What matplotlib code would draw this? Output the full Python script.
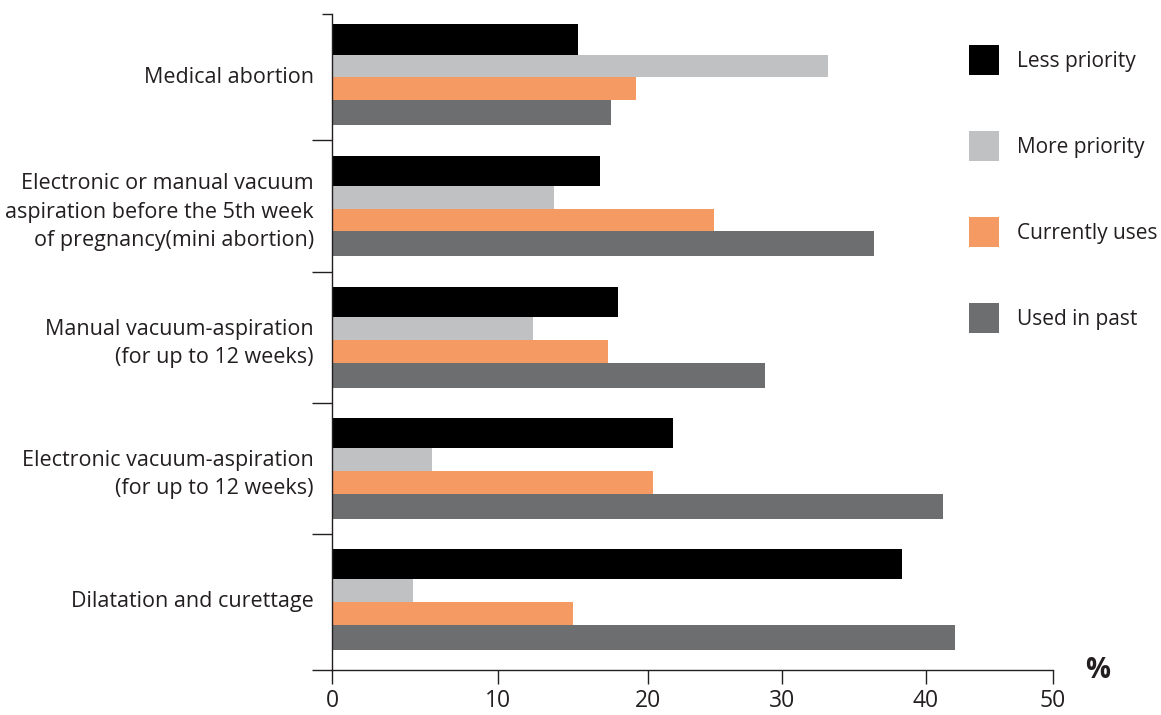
import numpy as np
import matplotlib
matplotlib.use("Agg")
import matplotlib.pyplot as plt
from matplotlib.patches import Patch

# ---- data -------------------------------------------------------------
categories = [
    "Medical abortion",
    "Electronic or manual vacuum\naspiration before the 5th week\nof pregnancy(mini abortion)",
    "Manual vacuum-aspiration\n(for up to 12 weeks)",
    "Electronic vacuum-aspiration\n(for up to 12 weeks)",
    "Dilatation and curettage",
]
series_names = ["Less priority", "More priority", "Currently uses", "Used in past"]
less_priority = [15.3, 16.8, 18.0, 21.9, 38.3]
more_priority = [33.2, 13.7, 12.3, 6.0, 4.9]
currently_uses = [19.2, 24.9, 17.3, 20.4, 15.0]
used_in_past = [17.5, 36.4, 28.7, 41.3, 42.3]
x_ticks = [0, 10, 20, 30, 40, 50]

# ---- style ------------------------------------------------------------
colors = ["#000000", "#C0C1C3", "#F59A63", "#6D6E70"]
bar_heights = [0.229, 0.175, 0.175, 0.191]
group_start = -0.385
ink = "#231F20"
font = ["Open Sans", "DejaVu Sans"]
plt.rcParams["font.family"] = font
plt.rcParams["text.color"] = ink

# The value axis uses unevenly spaced gridline ticks; a piecewise-linear
# scale keeps bar lengths consistent with those tick marks.
tick_spacing = [0, 166, 316, 450, 594, 721]


def fwd(v):
    return np.interp(v, x_ticks, tick_spacing)


def inv(p):
    return np.interp(p, tick_spacing, x_ticks)


W, H = 1161, 715
fig = plt.figure(figsize=(W / 100, H / 100), dpi=100)
ax = fig.add_axes([332 / W, 1 - 670 / H, (1053 - 332) / W, (670 - 14) / H])
ax.set_xscale("function", functions=(fwd, inv))

pos = np.arange(len(categories))
series = [less_priority, more_priority, currently_uses, used_in_past]
offset = group_start
for vals, c, h in zip(series, colors, bar_heights):
    ax.barh(pos + offset, vals, height=h, align="edge", color=c, linewidth=0)
    offset += h

y_top, y_bottom = -0.465, len(categories) - 0.46
ax.set_ylim(y_bottom, y_top)
ax.set_xlim(0, 50)

# spines
for s in ("top", "right"):
    ax.spines[s].set_visible(False)
for s in ("left", "bottom"):
    ax.spines[s].set_linewidth(1.0)
    ax.spines[s].set_color(ink)

# x ticks
ax.set_xticks(x_ticks)
ax.set_xticklabels([str(t) for t in x_ticks])
ax.tick_params(axis="x", direction="out", length=10, width=1.0, color=ink,
               labelsize=16.5, pad=4, labelcolor=ink)

# y: category labels without tick marks, separators as minor ticks
ax.set_yticks(pos)
ax.set_yticklabels(categories)
ax.tick_params(axis="y", which="major", length=0, pad=13, labelsize=15.5,
               labelcolor=ink)
for lbl in ax.get_yticklabels():
    lbl.set_multialignment("right")
    lbl.set_linespacing(1.45)

separators = [y_top] + list(pos[:-1] + 0.5) + [y_bottom]
ax.set_yticks(separators, minor=True)
ax.tick_params(axis="y", which="minor", direction="out", length=14.4,
               width=1.0, color=ink)
minor_ticks = ax.yaxis.get_minor_ticks()
minor_ticks[0].tick1line.set_markersize(7.2)

# unit label at the end of the value axis
ax.annotate("%", xy=(1, 0), xycoords="axes fraction", xytext=(32, 0),
            textcoords="offset points", ha="center", va="center",
            fontsize=20, fontweight="bold", color=ink)

# legend
handles = [Patch(facecolor=c, edgecolor="none") for c in colors]
fig.legend(handles, series_names, loc="upper left",
           bbox_to_anchor=(969 / W, 1 - 45 / H), bbox_transform=fig.transFigure,
           frameon=False, borderpad=0, borderaxespad=0,
           handlelength=1.44, handleheight=1.84, handletextpad=0.87,
           labelspacing=2.69, fontsize=15)

fig.savefig("out.png", dpi=100)
